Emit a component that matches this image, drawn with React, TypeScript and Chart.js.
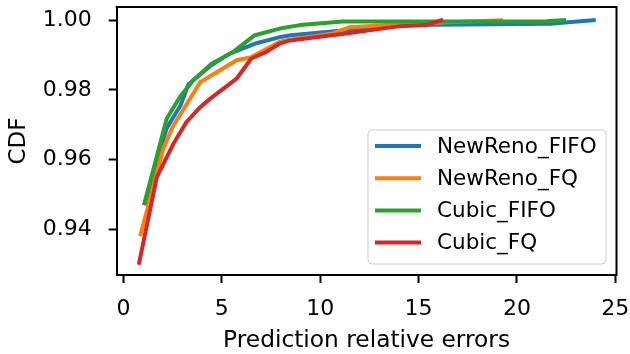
import React, { useEffect, useRef } from "react";
import { Chart, registerables } from "chart.js";

Chart.register(...registerables);

const seriesLabels = ["NewReno_FIFO", "NewReno_FQ", "Cubic_FIFO", "Cubic_FQ"];
const seriesColors = ["#1f77b4", "#ff7f0e", "#2ca02c", "#d62728"];

const newRenoFifoX = [1.1, 2.2, 2.9, 3.3, 3.64, 4.5, 5.4, 6.7, 8.0, 8.5, 11.3, 14.5, 21.7, 23.9];
const newRenoFifoY = [0.9475, 0.969, 0.9755, 0.9815, 0.9832, 0.9872, 0.9904, 0.9933, 0.9952, 0.9957, 0.9971, 0.9986, 0.999, 1.0];

const newRenoFqX = [0.88, 2.0, 2.5, 3.9, 5.75, 6.5, 7.95, 8.45, 10.65, 11.5, 14.5, 19.2];
const newRenoFqY = [0.9385, 0.9626, 0.9693, 0.9822, 0.9885, 0.9894, 0.9938, 0.9944, 0.9962, 0.998, 0.999, 1.0];

const cubicFifoX = [1.07, 2.2, 2.88, 3.54, 4.48, 5.58, 6.68, 7.95, 8.97, 11.15, 20.5, 21.5, 22.4];
const cubicFifoY = [0.9474, 0.9717, 0.978, 0.9827, 0.9875, 0.9909, 0.9957, 0.9976, 0.9986, 0.9996, 0.9996, 0.9997, 1.0];

const cubicFqX = [0.8, 1.7, 2.54, 3.2, 3.9, 4.4, 5.75, 6.5, 7.27, 7.95, 8.45, 11.3, 14.05, 15.4, 16.15];
const cubicFqY = [0.9303, 0.9549, 0.9645, 0.9707, 0.975, 0.9774, 0.9832, 0.989, 0.9909, 0.9933, 0.9942, 0.9962, 0.9983, 0.9986, 1.0];

const xTicks = [0, 5, 10, 15, 20, 25];
const yTicks = [0.94, 0.96, 0.98, 1.0];

const xTitle = "Prediction relative errors";
const yTitle = "CDF";

const FONT = "'DejaVu Sans', sans-serif";

function toPoints(xs: number[], ys: number[]) {
  return xs.map((x, i) => ({ x, y: ys[i] }));
}

const framePlugin = {
  id: "frame",
  afterDatasetsDraw(chart: any) {
    const ctx = chart.ctx as CanvasRenderingContext2D;
    const a = chart.chartArea;
    ctx.save();
    ctx.strokeStyle = "#000";
    ctx.lineWidth = 2;
    ctx.lineCap = "square";
    ctx.beginPath();
    ctx.moveTo(a.left, a.top);
    ctx.lineTo(a.right, a.top);
    ctx.lineTo(a.right, a.bottom);
    ctx.stroke();
    ctx.restore();
  },
};

const legendPlugin = {
  id: "insideLegend",
  afterDraw(chart: any) {
    const ctx = chart.ctx as CanvasRenderingContext2D;
    const area = chart.chartArea;
    const w = 238;
    const h = 134;
    const x0 = area.right - 10.5 - w;
    const y0 = area.bottom - 11 - h;
    const r = 4;
    ctx.save();
    ctx.beginPath();
    ctx.moveTo(x0 + r, y0);
    ctx.lineTo(x0 + w - r, y0);
    ctx.quadraticCurveTo(x0 + w, y0, x0 + w, y0 + r);
    ctx.lineTo(x0 + w, y0 + h - r);
    ctx.quadraticCurveTo(x0 + w, y0 + h, x0 + w - r, y0 + h);
    ctx.lineTo(x0 + r, y0 + h);
    ctx.quadraticCurveTo(x0, y0 + h, x0, y0 + h - r);
    ctx.lineTo(x0, y0 + r);
    ctx.quadraticCurveTo(x0, y0, x0 + r, y0);
    ctx.closePath();
    ctx.fillStyle = "rgba(255,255,255,0.8)";
    ctx.fill();
    ctx.strokeStyle = "#cccccc";
    ctx.lineWidth = 1;
    ctx.stroke();

    chart.data.datasets.forEach((ds: any, i: number) => {
      const yy = y0 + 16 + i * 32.2;
      ctx.beginPath();
      ctx.moveTo(x0 + 7, yy);
      ctx.lineTo(x0 + 53, yy);
      ctx.strokeStyle = ds.borderColor;
      ctx.lineWidth = 4;
      ctx.lineCap = "butt";
      ctx.stroke();
      ctx.fillStyle = "#000000";
      ctx.font = `21.5px ${FONT}`;
      ctx.textBaseline = "middle";
      ctx.textAlign = "left";
      ctx.fillText(ds.label, x0 + 69, yy + 1);
    });
    ctx.restore();
  },
};

export default function App() {
  const canvasRef = useRef<HTMLCanvasElement | null>(null);

  useEffect(() => {
    if (!canvasRef.current) return;
    const xs = [newRenoFifoX, newRenoFqX, cubicFifoX, cubicFqX];
    const ys = [newRenoFifoY, newRenoFqY, cubicFifoY, cubicFqY];
    const orders = [4, 3, 2, 1];
    const chart = new Chart(canvasRef.current, {
      type: "line",
      data: {
        datasets: seriesLabels.map((label, i) => ({
          label,
          data: toPoints(xs[i], ys[i]),
          borderColor: seriesColors[i],
          backgroundColor: seriesColors[i],
          borderWidth: 4,
          pointRadius: 0,
          tension: 0,
          fill: false,
          order: orders[i],
          borderCapStyle: "square",
          borderJoinStyle: "round",
        })),
      },
      options: {
        animation: false,
        responsive: false,
        devicePixelRatio: 1,
        layout: { padding: { top: 7, right: 13.5, left: 0, bottom: 0 } },
        plugins: {
          legend: { display: false },
          tooltip: { enabled: false },
        },
        scales: {
          x: {
            type: "linear",
            min: -0.34,
            max: 25.06,
            grid: { display: true, drawOnChartArea: false, drawTicks: true, tickLength: 8, tickWidth: 2, tickColor: "#000" },
            border: { display: true, color: "#000", width: 2 },
            ticks: {
              color: "#000",
              font: { family: FONT, size: 22 },
              padding: 13,
              maxRotation: 0,
              autoSkip: false,
              callback: (v: any) => String(v),
            },
            title: {
              display: true,
              text: xTitle,
              color: "#000",
              font: { family: FONT, size: 23.3, lineHeight: 1 },
              padding: { top: 0, bottom: 1 },
            },
            afterBuildTicks: (scale: any) => {
              scale.ticks = xTicks.map((v) => ({ value: v }));
            },
            afterFit: (scale: any) => {
              scale.height = 79;
              scale.paddingLeft = 0;
              scale.paddingRight = 0;
            },
          },
          y: {
            type: "linear",
            min: 0.9268,
            max: 1.0038,
            grid: { display: true, drawOnChartArea: false, drawTicks: true, tickLength: 8, tickWidth: 2, tickColor: "#000" },
            border: { display: true, color: "#000", width: 2 },
            ticks: {
              color: "#000",
              font: { family: FONT, size: 22 },
              padding: 17,
              autoSkip: false,
              callback: (v: any) => Number(v).toFixed(2),
            },
            title: {
              display: true,
              text: yTitle,
              color: "#000",
              font: { family: FONT, size: 23, lineHeight: 1 },
              padding: { top: 7.5, bottom: 0 },
            },
            afterBuildTicks: (scale: any) => {
              scale.ticks = yTicks.map((v) => ({ value: v }));
            },
            afterFit: (scale: any) => {
              scale.width = 116.7;
              scale.paddingTop = 0;
              scale.paddingBottom = 0;
            },
          },
        },
      } as any,
      plugins: [framePlugin, legendPlugin],
    });
    return () => chart.destroy();
  }, []);

  return (
    <div style={{ position: "fixed", left: 0, top: 0, width: 630, height: 354, background: "#fff" }}>
      <canvas ref={canvasRef} width={630} height={354} style={{ width: 630, height: 354 }} />
    </div>
  );
}
